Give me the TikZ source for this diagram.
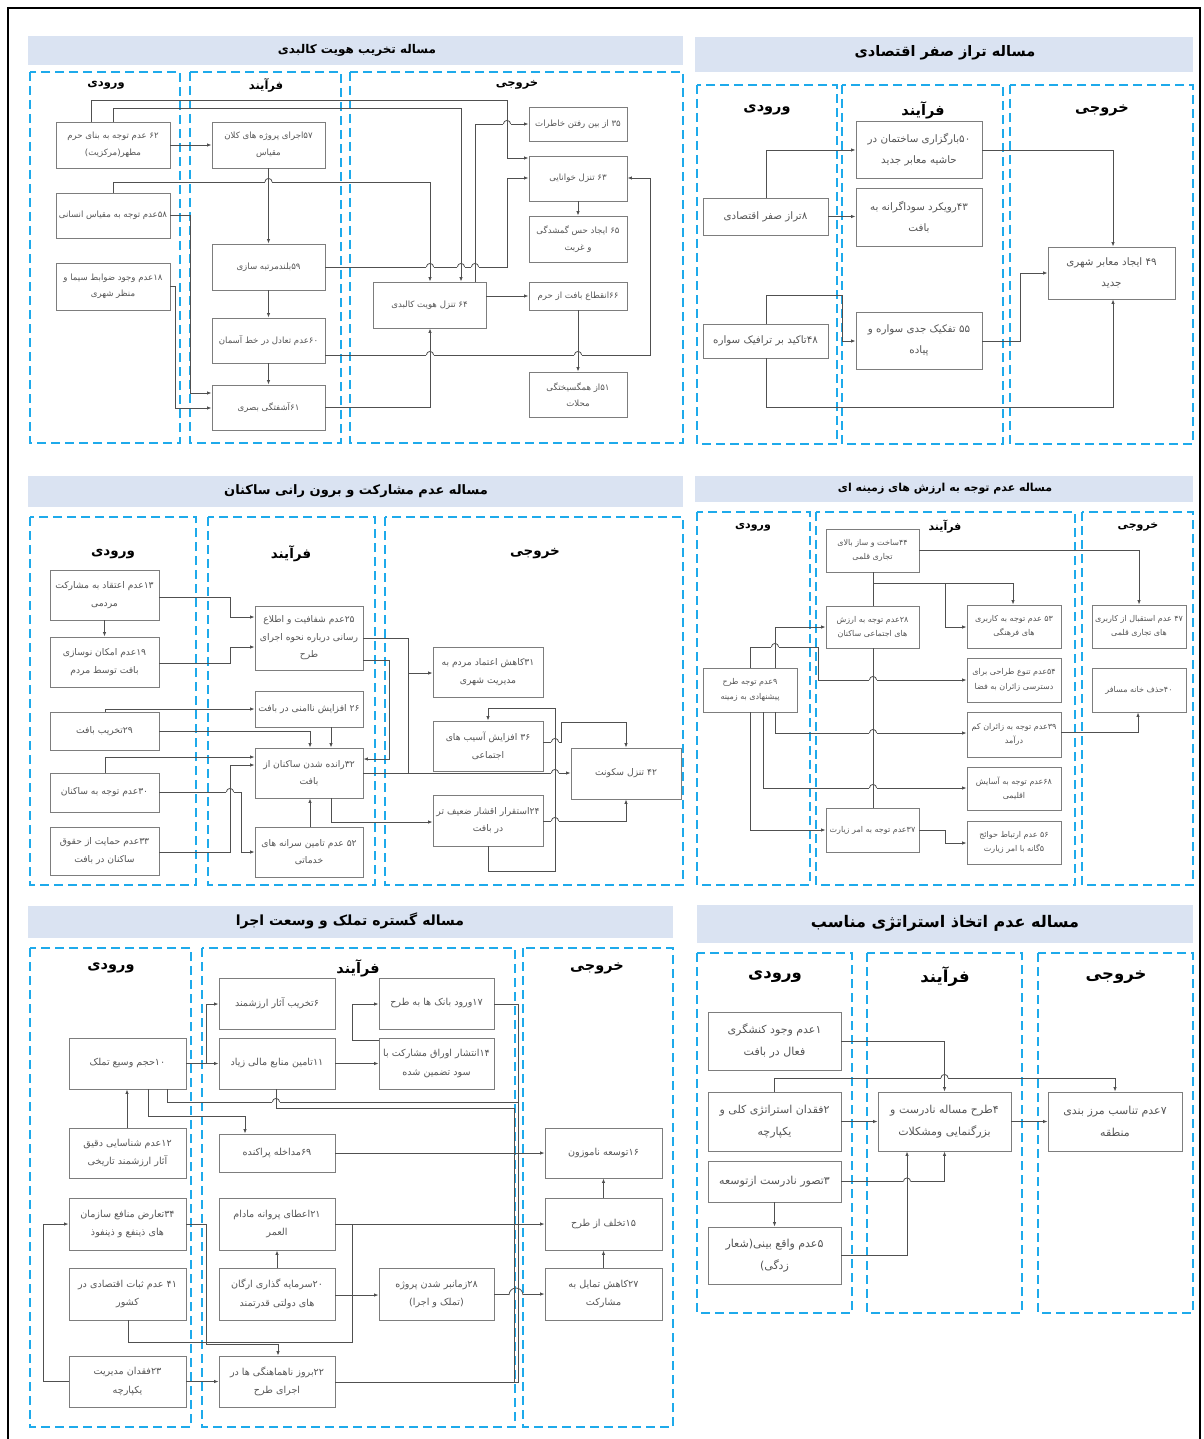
\documentclass[tikz,border=0pt]{standalone}
\usepackage{fontspec}
\newfontfamily\fa[Script=Arabic]{DejaVu Sans}
\TeXXeTstate=1
\usetikzlibrary{arrows.meta}
\newcommand\rl[1]{\beginR #1\endR}
\definecolor{dashblue}{RGB}{30,170,235}
\definecolor{titlefill}{RGB}{218,227,242}
\definecolor{boxgray}{RGB}{125,125,125}
\definecolor{linegray}{RGB}{80,80,80}
\definecolor{txtgray}{RGB}{85,85,85}
\newcommand\bx[7][]{\node[box,#1,minimum width={(#5)-(#3)},minimum height={(#6)-(#4)}] (#2) at ({((#3)+(#5))/2},{((#4)+(#6))/2}) {#7};}
\newcommand\jump[2]{\fill[white] ({#1-3.6},{#2-0.9}) rectangle ({#1+3.6},{#2+0.9});
 \draw[ln] (#1,{#2-4.5}) -- (#1,{#2+4.5});
 \draw[ln] ({#1-3.6},#2) arc[start angle=180,end angle=360,radius=3.6];}
\tikzset{
 box/.style={draw=boxgray, line width=0.9pt, fill=white, inner sep=1pt, align=center, text=txtgray},
 fA/.style={font=\fa\fontsize{8.6}{16.5}\selectfont},
 fB/.style={font=\fa\fontsize{10.3}{20.5}\selectfont},
 fC/.style={font=\fa\fontsize{9.2}{17.5}\selectfont},
 fD/.style={font=\fa\fontsize{8}{14.5}\selectfont},
 fE/.style={font=\fa\fontsize{9.6}{18.5}\selectfont},
 fF/.style={font=\fa\fontsize{11}{21.5}\selectfont},
 con/.style={draw=linegray, line width=0.8pt, -{Latex[length=4.5pt,width=3.5pt]}},
 ln/.style={draw=linegray, line width=0.8pt},
 col/.style={draw=dashblue, line width=2.2pt, dash pattern=on 9pt off 5pt},
 ttl/.style={inner sep=0pt, text=black},
 hd/.style={inner sep=0pt, text=black}
}
\begin{document}
\begin{tikzpicture}[x=1pt,y=-1pt]
\useasboundingbox (0,0) rectangle (1203,1439);
\fill[white] (0,0) rectangle (1203,1439);
\draw[black, line width=1.2pt] (8,1445) -- (8,8) -- (1200,8) -- (1200,1445);

% ================= Panel 1 =================
\fill[titlefill] (28,36) rectangle (683,65);
\node[ttl, font=\fa\bfseries\fontsize{12}{14}\selectfont] (p1t) at (357,50) {\rl{مساله تخریب هویت کالبدی}};
\draw[col] (30,72) rectangle (180,443);
\draw[col] (190,72) rectangle (341,443);
\draw[col] (350,72) rectangle (683,443);
\node[hd, font=\fa\bfseries\fontsize{11.5}{13}\selectfont] (p1h1) at (106,85) {\rl{ورودی}};
\node[hd, font=\fa\bfseries\fontsize{11.5}{13}\selectfont] (p1h2) at (266,85) {\rl{فرآیند}};
\node[hd, font=\fa\bfseries\fontsize{11.5}{13}\selectfont] (p1h3) at (517,85) {\rl{خروجی}};
\bx[fA]{p1n62}{56}{122}{170}{168}{\rl{۶۲ عدم توجه به بنای حرم}\\\rl{مطهر(مرکزیت)}}
\bx[fA]{p1n58}{56}{193}{170}{238}{\rl{۵۸عدم توجه به مقیاس انسانی}}
\bx[fA]{p1n18}{56}{263}{170}{310}{\rl{۱۸عدم وجود ضوابط سیما و}\\\rl{منظر شهری}}
\bx[fA]{p1n57}{212}{122}{325}{168}{\rl{۵۷اجرای پروژه های کلان}\\\rl{مقیاس}}
\bx[fA]{p1n59}{212}{244}{325}{290}{\rl{۵۹بلندمرتبه سازی}}
\bx[fA]{p1n60}{212}{318}{325}{363}{\rl{۶۰عدم تعادل در خط آسمان}}
\bx[fA]{p1n61}{212}{385}{325}{430}{\rl{۶۱آشفتگی بصری}}
\bx[fA]{p1n35}{529}{107}{627}{141}{\rl{۳۵ از بین رفتن خاطرات}}
\bx[fA]{p1n63}{529}{156}{627}{201}{\rl{۶۳ تنزل خوانایی}}
\bx[fA]{p1n65}{529}{216}{627}{262}{\rl{۶۵ ایجاد حس گمشدگی}\\\rl{و غربت}}
\bx[fA]{p1n64}{373}{282}{486}{328}{\rl{۶۴ تنزل هویت کالبدی}}
\bx[fA]{p1n66}{529}{282}{627}{310}{\rl{۶۶انقطاع بافت از حرم}}
\bx[fA]{p1n51}{529}{372}{627}{417}{\rl{۵۱از همگسیختگی}\\\rl{محلات}}
\draw[con] (p1n62.east) -- (p1n57.west);
\draw[con] (p1n62.north -| 91,0) -- (91,100) -- (507,100) -- (507,158) -- (p1n63.west |- 0,158);
\draw[con] (p1n62.north -| 113,0) -- (113,108) -- (461,108) -- (p1n64.north -| 461,0);
\draw[con] (p1n57.south) -- (p1n59.north);
\draw[con] (p1n58.north -| 113,0) -- (113,182) -- (430,182) -- (p1n64.north -| 430,0);
\draw[con] (p1n58.east) -| (190,393) -- (p1n61.west |- 0,393);
\draw[con] (p1n18.east) -| (175,408) -- (p1n61.west |- 0,408);
\draw[con] (p1n59.east) -| (507,178) -- (p1n63.west |- 0,178);
\draw[con] (p1n59.south) -- (p1n60.north);
\draw[con] (p1n60.south) -- (p1n61.north);
\draw[con] (p1n60.east |- 0,355) -| (650,178) -- (p1n63.east |- 0,178);
\draw[con] (p1n61.east) -| (p1n64.south -| 430,0);
\draw[con] (p1n64.north -| 475,0) -- (475,124) -- (p1n35.west |- 0,124);
\draw[con] (p1n64.east |- 0,296) -- (p1n66.west);
\draw[con] (p1n63.south) -- (p1n65.north);
\draw[con] (p1n66.south) -- (p1n51.north);
\jump{268.5}{182}
\jump{507}{124}
\jump{430}{267}\jump{461}{267}\jump{475}{267}
\jump{430}{355}\jump{578}{355}

% ================= Panel 2 =================
\fill[titlefill] (695,37) rectangle (1193,72);
\node[ttl, font=\fa\bfseries\fontsize{14.5}{16}\selectfont] (p2t) at (945,53) {\rl{مساله تراز صفر اقتصادی}};
\draw[col] (697,85) rectangle (837,444);
\draw[col] (842,85) rectangle (1003,444);
\draw[col] (1010,85) rectangle (1193,444);
\node[hd, font=\fa\bfseries\fontsize{14.5}{16}\selectfont] (p2h1) at (767,110) {\rl{ورودی}};
\node[hd, font=\fa\bfseries\fontsize{14.5}{16}\selectfont] (p2h2) at (923,110) {\rl{فرآیند}};
\node[hd, font=\fa\bfseries\fontsize{14.5}{16}\selectfont] (p2h3) at (1102,110) {\rl{خروجی}};
\bx[fB]{p2n8}{703}{198}{828}{235}{\rl{۸تراز صفر اقتصادی}}
\bx[fB]{p2n48}{703}{324}{828}{358}{\rl{۴۸تاکید بر ترافیک سواره}}
\bx[fB]{p2n50}{856}{121}{982}{178}{\rl{۵۰بارگزاری ساختمان در}\\\rl{حاشیه معابر جدید}}
\bx[fB]{p2n43}{856}{188}{982}{246}{\rl{۴۳رویکرد سوداگرانه به}\\\rl{بافت}}
\bx[fB]{p2n55}{856}{312}{982}{369}{\rl{۵۵ تفکیک جدی سواره و}\\\rl{پیاده}}
\bx[fB]{p2n49}{1048}{247}{1175}{299}{\rl{۴۹ ایجاد معابر شهری}\\\rl{جدید}}
\draw[con] (p2n8.north -| 766,0) |- (p2n50.west |- 0,150);
\draw[con] (p2n8.east) -- (p2n43.west |- p2n8.east);
\draw[con] (p2n48.north -| 766,0) |- (842,295) |- (p2n55.west |- 0,341);
\draw[con] (p2n48.south -| 766,0) |- (1113,407) -- (p2n49.south -| 1113,0);
\draw[con] (p2n50.east |- 0,150) -| (p2n49.north -| 1113,0);
\draw[con] (p2n55.east |- 0,341) -| (1020,273) -- (p2n49.west |- 0,273);

% ================= Panel 3 =================
\fill[titlefill] (28,476) rectangle (683,507);
\node[ttl, font=\fa\bfseries\fontsize{13}{15}\selectfont] (p3t) at (356,491) {\rl{مساله عدم مشارکت و برون رانی ساکنان}};
\draw[col] (30,517) rectangle (196,885);
\draw[col] (208,517) rectangle (375,885);
\draw[col] (385,517) rectangle (683,885);
\node[hd, font=\fa\bfseries\fontsize{13.5}{15}\selectfont] (p3h1) at (113,554) {\rl{ورودی}};
\node[hd, font=\fa\bfseries\fontsize{13.5}{15}\selectfont] (p3h2) at (291,554) {\rl{فرآیند}};
\node[hd, font=\fa\bfseries\fontsize{13.5}{15}\selectfont] (p3h3) at (535,554) {\rl{خروجی}};
\bx[fC]{p3n13}{50}{570}{159}{620}{\rl{۱۳عدم اعتقاد به مشارکت}\\\rl{مردمی}}
\bx[fC]{p3n19}{50}{637}{159}{687}{\rl{۱۹عدم امکان نوسازی}\\\rl{بافت توسط مردم}}
\bx[fC]{p3n29}{50}{712}{159}{750}{\rl{۲۹تخریب بافت}}
\bx[fC]{p3n30}{50}{773}{159}{812}{\rl{۳۰عدم توجه به ساکنان}}
\bx[fC]{p3n33}{50}{827}{159}{875}{\rl{۳۳عدم حمایت از حقوق}\\\rl{ساکنان در بافت}}
\bx[fC]{p3n25}{255}{606}{363}{670}{\rl{۲۵عدم شفافیت و اطلاع}\\\rl{رسانی درباره نحوه اجرای}\\\rl{طرح}}
\bx[fC]{p3n26}{255}{691}{363}{727}{\rl{۲۶ افزایش ناامنی در بافت}}
\bx[fC]{p3n32}{255}{748}{363}{798}{\rl{۳۲رانده شدن ساکنان از}\\\rl{بافت}}
\bx[fC]{p3n52}{255}{827}{363}{877}{\rl{۵۲ عدم تامین سرانه های}\\\rl{خدماتی}}
\bx[fC]{p3n31}{433}{647}{543}{697}{\rl{۳۱کاهش اعتماد مردم به}\\\rl{مدیریت شهری}}
\bx[fC]{p3n36}{433}{721}{543}{771}{\rl{۳۶ افزایش آسیب های}\\\rl{اجتماعی}}
\bx[fC]{p3n24}{433}{795}{543}{846}{\rl{۲۴استقرار اقشار ضعیف تر}\\\rl{در بافت}}
\bx[fC]{p3n42}{571}{748}{681}{799}{\rl{۴۲ تنزل سکونت}}
\draw[con] (p3n13.east |- 0,597) -| (230,617) -- (p3n25.west |- 0,617);
\draw[con] (p3n19.east |- 0,663) -| (230,647) -- (p3n25.west |- 0,647);
\draw[con] (p3n13.south) -- (p3n19.north);
\draw[con] (p3n29.north -| 105,0) |- (p3n26.west);
\draw[con] (p3n29.east |- 0,731) -| (p3n32.north -| 310,0);
\draw[con] (p3n26.south -| 331,0) -- (p3n32.north -| 331,0);
\draw[con] (p3n30.north -| 105,0) |- (p3n32.west |- 0,757);
\draw[con] (p3n30.east |- 0,792) -| (241,852) -- (p3n52.west |- 0,852);
\draw[con] (p3n33.east |- 0,852) -| (230,765) -- (p3n32.west |- 0,765);
\draw[con] (p3n52.north -| 310,0) -- (p3n32.south -| 310,0);
\draw[con] (p3n32.south -| 331,0) |- (p3n24.west |- 0,822);
\draw[con] (p3n25.east |- 0,638) -| (408,673) -- (p3n31.west |- 0,673);
\coordinate (p3j1) at (408,673);
\draw[ln] (p3j1) -- (408,773);
\draw[con] (p3n32.east |- 0,773) -- (p3n42.west |- 0,773);
\draw[con] (p3n25.east |- 0,660) -| (389,759) -- (p3n32.east |- 0,759);
\draw[con] (p3n24.south -| 488,0) |- (555,871) |- (488,708) -- (p3n36.north -| 488,0);
\draw[con] (p3n36.east |- 0,742) -| (561,722) -| (p3n42.north -| 626,0);
\draw[con] (p3n24.east |- 0,821) -| (p3n42.south -| 626,0);
\jump{230}{792}
\jump{555}{773}\jump{555}{742}\jump{555}{821}

% ================= Panel 4 =================
\fill[titlefill] (695,476) rectangle (1193,502);
\node[ttl, font=\fa\bfseries\fontsize{11}{13}\selectfont] (p4t) at (945,489) {\rl{مساله عدم توجه به ارزش های زمینه ای}};
\draw[col] (697,512) rectangle (810,885);
\draw[col] (816,512) rectangle (1075,885);
\draw[col] (1082,512) rectangle (1193,885);
\node[hd, font=\fa\bfseries\fontsize{11}{13}\selectfont] (p4h1) at (753,527) {\rl{ورودی}};
\node[hd, font=\fa\bfseries\fontsize{11}{13}\selectfont] (p4h2) at (945,527) {\rl{فرآیند}};
\node[hd, font=\fa\bfseries\fontsize{11}{13}\selectfont] (p4h3) at (1138,527) {\rl{خروجی}};
\bx[fD]{p4n9}{703}{668}{797}{712}{\rl{۹عدم توجه طرح}\\\rl{پیشنهادی به زمینه}}
\bx[fD]{p4n44}{826}{529}{919}{572}{\rl{۴۴ساخت و ساز بالای}\\\rl{تجاری قلمی}}
\bx[fD]{p4n28}{826}{606}{919}{648}{\rl{۲۸عدم توجه به ارزش}\\\rl{های اجتماعی ساکنان}}
\bx[fD]{p4n37}{826}{808}{919}{852}{\rl{۳۷عدم توجه به امر زیارت}}
\bx[fD]{p4n53}{967}{605}{1061}{648}{\rl{۵۳ عدم توجه به کاربری}\\\rl{های فرهنگی}}
\bx[fD]{p4n54}{967}{658}{1061}{702}{\rl{۵۴عدم تنوع طراحی برای}\\\rl{دسترسی زائران به فضا}}
\bx[fD]{p4n39}{967}{712}{1061}{757}{\rl{۳۹عدم توجه به زائران کم}\\\rl{درآمد}}
\bx[fD]{p4n68}{967}{767}{1061}{810}{\rl{۶۸عدم توجه به آسایش}\\\rl{اقلیمی}}
\bx[fD]{p4n56}{967}{821}{1061}{864}{\rl{۵۶ عدم ارتباط حوائج}\\\rl{۵گانه با امر زیارت}}
\bx[fD]{p4n47}{1092}{605}{1186}{648}{\rl{۴۷ عدم استقبال از کاربری}\\\rl{های تجاری قلمی}}
\bx[fD]{p4n40}{1092}{668}{1186}{712}{\rl{۴۰حذف خانه مسافر}}
\coordinate (p4j1) at (873,583);
\coordinate (p4j2) at (945,583);
\draw[con] (p4n44.east |- 0,550) -| (p4n47.north -| 1139,0);
\draw[ln] (p4n44.south -| 873,0) -- (p4n28.north -| 873,0);
\draw[con] (p4j1) -| (p4n53.north -| 1013,0);
\draw[con] (p4j2) |- (p4n53.west |- 0,627);
\draw[con] (p4n9.north -| 775,0) |- (p4n28.west |- 0,627);
\draw[con] (p4n9.north -| 750,0) |- (818,647) |- (p4n54.west |- 0,680);
\draw[con] (p4n9.south -| 775,0) |- (p4n39.west |- 0,733);
\draw[con] (p4n9.south -| 763,0) |- (p4n68.west |- 0,788);
\draw[con] (p4n9.south -| 750,0) |- (p4n37.west |- 0,830);
\draw[ln] (p4n28.south -| 873,0) -- (p4n37.north -| 873,0);
\draw[con] (p4n37.east |- 0,830) -| (945,843) -- (p4n56.west |- 0,843);
\draw[con] (p4n39.east |- 0,732) -| (p4n40.south -| 1138,0);
\jump{775}{647}
\jump{873}{680}\jump{873}{733}\jump{873}{788}

% ================= Panel 5 =================
\fill[titlefill] (28,906) rectangle (673,938);
\node[ttl, font=\fa\bfseries\fontsize{14}{16}\selectfont] (p5t) at (350,921) {\rl{مساله گستره تملک و وسعت اجرا}};
\draw[col] (30,948) rectangle (191,1427);
\draw[col] (202,948) rectangle (515,1427);
\draw[col] (523,948) rectangle (673,1427);
\node[hd, font=\fa\bfseries\fontsize{14.5}{16}\selectfont] (p5h1) at (111,968) {\rl{ورودی}};
\node[hd, font=\fa\bfseries\fontsize{14.5}{16}\selectfont] (p5h2) at (358,968) {\rl{فرآیند}};
\node[hd, font=\fa\bfseries\fontsize{14.5}{16}\selectfont] (p5h3) at (597,968) {\rl{خروجی}};
\bx[fE]{p5n10}{69}{1038}{186}{1089}{\rl{۱۰حجم وسیع تملک}}
\bx[fE]{p5n12}{69}{1128}{186}{1178}{\rl{۱۲عدم شناسایی دقیق}\\\rl{آثار ارزشمند تاریخی}}
\bx[fE]{p5n34}{69}{1198}{186}{1250}{\rl{۳۴تعارض منافع سازمان}\\\rl{های ذینفع و ذینفوذ}}
\bx[fE]{p5n41}{69}{1268}{186}{1320}{\rl{۴۱ عدم ثبات اقتصادی در}\\\rl{کشور}}
\bx[fE]{p5n23}{69}{1356}{186}{1407}{\rl{۲۳فقدان مدیریت}\\\rl{یکپارچه}}
\bx[fE]{p5n6}{219}{978}{335}{1029}{\rl{۶تخریب آثار ارزشمند}}
\bx[fE]{p5n11}{219}{1038}{335}{1089}{\rl{۱۱تامین منابع مالی زیاد}}
\bx[fE]{p5n69}{219}{1134}{335}{1172}{\rl{۶۹مداخله پراکنده}}
\bx[fE]{p5n21}{219}{1198}{335}{1250}{\rl{۲۱اعطای پروانه مادام}\\\rl{العمر}}
\bx[fE]{p5n20}{219}{1268}{335}{1320}{\rl{۲۰سرمایه گذاری ارگان}\\\rl{های دولتی قدرتمند}}
\bx[fE]{p5n22}{219}{1356}{335}{1407}{\rl{۲۲بروز ناهماهنگی ها در}\\\rl{اجرای طرح}}
\bx[fE]{p5n17}{379}{978}{494}{1029}{\rl{۱۷ورود بانک ها به طرح}}
\bx[fE]{p5n14}{379}{1038}{494}{1089}{\rl{۱۴انتشار اوراق مشارکت با}\\\rl{سود تضمین شده}}
\bx[fE]{p5n28}{379}{1268}{494}{1320}{\rl{۲۸زمانبر شدن پروژه}\\\rl{(تملک و اجرا)}}
\bx[fE]{p5n16}{545}{1128}{662}{1178}{\rl{۱۶توسعه ناموزون}}
\bx[fE]{p5n15}{545}{1198}{662}{1250}{\rl{۱۵تخلف از طرح}}
\bx[fE]{p5n27}{545}{1268}{662}{1320}{\rl{۲۷کاهش تمایل به}\\\rl{مشارکت}}
\coordinate (p5j1) at (206,1063.5);
\coordinate (p5j2) at (518,1102);
\coordinate (p5j3) at (352,1224);
\draw[con] (p5n10.east) -- (p5n11.west);
\draw[con] (p5j1) |- (p5n6.west |- 0,1004);
\draw[con] (p5n11.east) -- (p5n14.west);
\draw[con] (p5n14.west |- 0,1040) -| (352,1004) -- (p5n17.west |- 0,1004);
\draw[ln] (p5n10.south -| 167,0) |- (p5j2) -- (518,1382) -- (p5n22.east |- 0,1382);
\draw[ln] (p5n11.south -| 276,0) |- (514,1108) -- (514,1382);
\draw[ln] (p5n17.east |- 0,1004) -| (p5j2);
\draw[con] (p5n10.south -| 148,0) |- (245,1116) -- (p5n69.north -| 245,0);
\draw[con] (p5n12.north -| 127,0) -- (p5n10.south -| 127,0);
\draw[con] (p5n69.east |- 0,1153) -- (p5n16.west |- 0,1153);
\draw[con] (p5n21.east) -- (p5n15.west);
\draw[ln] (p5n20.east |- 0,1295) -| (p5j3);
\draw[con] (p5n41.south -| 128,0) |- (352,1342) |- (p5n28.west |- 0,1295);
\draw[con] (p5n34.east) -| (206,1344) -| (p5n22.north -| 278,0);
\draw[con] (p5n23.west) -- (43,1381.5) |- (p5n34.west);
\draw[con] (p5n23.east) -- (p5n22.west);
\draw[con] (p5n20.north -| 277,0) -- (p5n21.south -| 277,0);
\draw[con] (p5n28.east) -- (p5n27.west);
\draw[con] (p5n27.north) -- (p5n15.south);
\draw[con] (p5n15.north) -- (p5n16.south);
\jump{276}{1102}
\fill[white] (509,1293) rectangle (523,1297);
\draw[ln] (514,1288) -- (514,1302);
\draw[ln] (518,1288) -- (518,1302);
\draw[ln] (509,1295) arc[start angle=180,end angle=360,radius=7];

% ================= Panel 6 =================
\fill[titlefill] (697,905) rectangle (1193,943);
\node[ttl, font=\fa\bfseries\fontsize{16}{18}\selectfont] (p6t) at (945,923) {\rl{مساله عدم اتخاذ استراتژی مناسب}};
\draw[col] (697,953) rectangle (852,1313);
\draw[col] (867,953) rectangle (1022,1313);
\draw[col] (1038,953) rectangle (1193,1313);
\node[hd, font=\fa\bfseries\fontsize{16.5}{18}\selectfont] (p6h1) at (775,977) {\rl{ورودی}};
\node[hd, font=\fa\bfseries\fontsize{16.5}{18}\selectfont] (p6h2) at (945,977) {\rl{فرآیند}};
\node[hd, font=\fa\bfseries\fontsize{16.5}{18}\selectfont] (p6h3) at (1116,977) {\rl{خروجی}};
\bx[fF]{p6n1}{708}{1012}{841}{1070}{\rl{۱عدم وجود کنشگری}\\\rl{فعال در بافت}}
\bx[fF]{p6n2}{708}{1092}{841}{1151}{\rl{۲فقدان استراتژی کلی و}\\\rl{یکپارچه}}
\bx[fF]{p6n3}{708}{1161}{841}{1202}{\rl{۳تصور نادرست ازتوسعه}}
\bx[fF]{p6n5}{708}{1227}{841}{1284}{\rl{۵عدم واقع بینی(شعار}\\\rl{زدگی)}}
\bx[fF]{p6n4}{878}{1092}{1011}{1151}{\rl{۴طرح مساله نادرست و}\\\rl{بزرگنمایی ومشکلات}}
\bx[fF]{p6n7}{1048}{1092}{1182}{1151}{\rl{۷عدم تناسب مرز بندی}\\\rl{منطقه}}
\coordinate (p6j1) at (774.5,1078);
\draw[con] (p6n1.east) -| (p6n4.north);
\draw[con] (p6n2.north) -- (p6j1) -| (p6n7.north);
\draw[con] (p6n2.east) -- (p6n4.west);
\draw[con] (p6n4.east) -- (p6n7.west);
\draw[con] (p6n3.east) -| (p6n4.south);
\draw[con] (p6n5.east) -| (p6n4.south -| 907,0);
\draw[con] (p6n3.south) -- (p6n5.north);
\jump{944.5}{1078}
\jump{907}{1181.5}
\end{tikzpicture}
\end{document}
